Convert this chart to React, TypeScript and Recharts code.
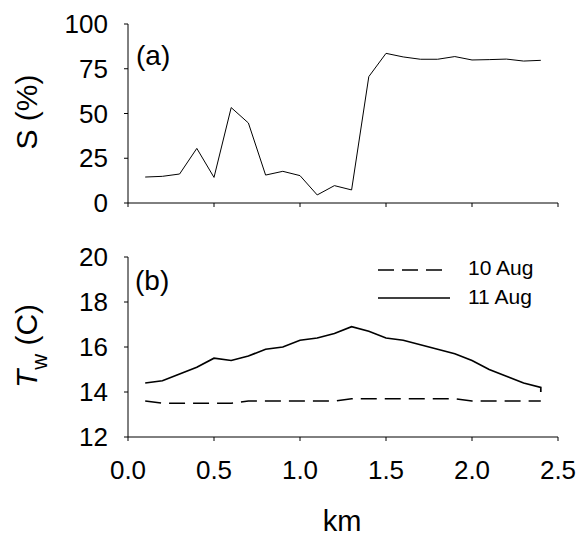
import React from "react";
import { LineChart, Line, XAxis, YAxis } from "recharts";

const xTicks = [0, 0.5, 1, 1.5, 2, 2.5];
const sTicks = [0, 25, 50, 75, 100];
const tTicks = [12, 14, 16, 18, 20];

const distanceKm = [0.1, 0.2, 0.3, 0.4, 0.5, 0.6, 0.7, 0.8, 0.9, 1.0, 1.1, 1.2, 1.3, 1.4, 1.5, 1.6, 1.7, 1.8, 1.9, 2.0, 2.1, 2.2, 2.3, 2.4];
const salinity = [14.5, 14.9, 16.2, 30.5, 14.3, 53.3, 44.7, 15.6, 17.7, 15.3, 4.5, 9.7, 7.3, 70.6, 83.6, 81.6, 80.3, 80.3, 81.8, 79.9, 80.1, 80.4, 79.3, 79.7];
const temp10Aug = [13.6, 13.5, 13.5, 13.5, 13.5, 13.5, 13.6, 13.6, 13.6, 13.6, 13.6, 13.6, 13.7, 13.7, 13.7, 13.7, 13.7, 13.7, 13.7, 13.6, 13.6, 13.6, 13.6, 13.6];
const temp11Aug = [14.4, 14.5, 14.8, 15.1, 15.5, 15.4, 15.6, 15.9, 16.0, 16.3, 16.4, 16.6, 16.9, 16.7, 16.4, 16.3, 16.1, 15.9, 15.7, 15.4, 15.0, 14.7, 14.4, 14.2];
const temp11AugEndKm = 2.4;
const temp11AugEnd = 14.0;

const sData = distanceKm.map((km, i) => ({ km, s: salinity[i] }));
const t10Data = distanceKm.map((km, i) => ({ km, t: temp10Aug[i] }));
const t11Data = [
  ...distanceKm.map((km, i) => ({ km, t: temp11Aug[i] })),
  { km: temp11AugEndKm, t: temp11AugEnd },
];

const FONT = "Liberation Sans, Arial, Helvetica, sans-serif";
const AXIS = "#000";
const tickStyle = { fontSize: 26, fill: "#000", fontFamily: FONT };
const TOP_H = 226;

const EmptyTick = () => <g />;

export default function App() {
  return (
    <div style={{ position: "absolute", left: 0, top: 0, width: 577, height: 538, background: "#fff", fontFamily: FONT }}>
      <LineChart width={577} height={TOP_H} data={sData} margin={{ top: 24, right: 19, left: 0, bottom: 0 }}>
        <XAxis
          dataKey="km"
          type="number"
          domain={[0, 2.5]}
          ticks={xTicks}
          interval={0}
          height={TOP_H - 203}
          tick={EmptyTick}
          tickSize={4}
          axisLine={{ stroke: AXIS }}
          tickLine={{ stroke: AXIS }}
        />
        <YAxis
          type="number"
          domain={[0, 100]}
          ticks={sTicks}
          interval={0}
          width={128}
          tickSize={4}
          tickMargin={16}
          tick={tickStyle}
          axisLine={{ stroke: AXIS }}
          tickLine={{ stroke: AXIS }}
          label={{
            content: () => (
              <text x={37} y={112} transform="rotate(-90 37 112)" textAnchor="middle" fontSize={30} fontFamily={FONT} fill="#000">
                S (%)
              </text>
            ),
          }}
        />
        <Line dataKey="s" type="linear" stroke="#000" strokeWidth={1} dot={false} isAnimationActive={false} />
        <text x={136} y={65} fontSize={28} fontFamily={FONT} fill="#000">(a)</text>
      </LineChart>
      <LineChart width={577} height={538 - TOP_H} margin={{ top: 257 - TOP_H, right: 19, left: 0, bottom: 0 }}>
        <XAxis
          dataKey="km"
          type="number"
          domain={[0, 2.5]}
          ticks={xTicks}
          interval={0}
          height={101}
          tickSize={4}
          tickMargin={20}
          tick={tickStyle}
          tickFormatter={(v: number) => v.toFixed(1)}
          axisLine={{ stroke: AXIS }}
          tickLine={{ stroke: AXIS }}
          label={{
            content: () => (
              <text x={342} y={531 - TOP_H} textAnchor="middle" fontSize={29} fontFamily={FONT} fill="#000">
                km
              </text>
            ),
          }}
        />
        <YAxis
          type="number"
          domain={[12, 20]}
          ticks={tTicks}
          interval={0}
          width={128}
          tickSize={4}
          tickMargin={16}
          tick={tickStyle}
          axisLine={{ stroke: AXIS }}
          tickLine={{ stroke: AXIS }}
          label={{
            content: () => (
              <text x={37} y={346 - TOP_H} transform={`rotate(-90 37 ${346 - TOP_H})`} textAnchor="middle" fontSize={30} fontFamily={FONT} fill="#000">
                <tspan fontStyle="italic">T</tspan>
                <tspan fontSize={22} dy={10}>w</tspan>
                <tspan dy={-10}> (C)</tspan>
              </text>
            ),
          }}
        />
        <Line data={t10Data} dataKey="t" type="linear" stroke="#000" strokeWidth={1.5} strokeDasharray="16 8" dot={false} isAnimationActive={false} />
        <Line data={t11Data} dataKey="t" type="linear" stroke="#000" strokeWidth={1.7} dot={false} isAnimationActive={false} />
        <text x={135} y={290 - TOP_H} fontSize={28} fontFamily={FONT} fill="#000">(b)</text>
        <line x1={378} x2={442} y1={270 - TOP_H} y2={270 - TOP_H} stroke="#000" strokeWidth={1.5} strokeDasharray="16 8" />
        <text x={468} y={275 - TOP_H} fontSize={21} fontFamily={FONT} fill="#000">10 Aug</text>
        <line x1={378} x2={450} y1={298 - TOP_H} y2={298 - TOP_H} stroke="#000" strokeWidth={1.7} />
        <text x={468} y={304 - TOP_H} fontSize={21} fontFamily={FONT} fill="#000">11 Aug</text>
      </LineChart>
    </div>
  );
}
